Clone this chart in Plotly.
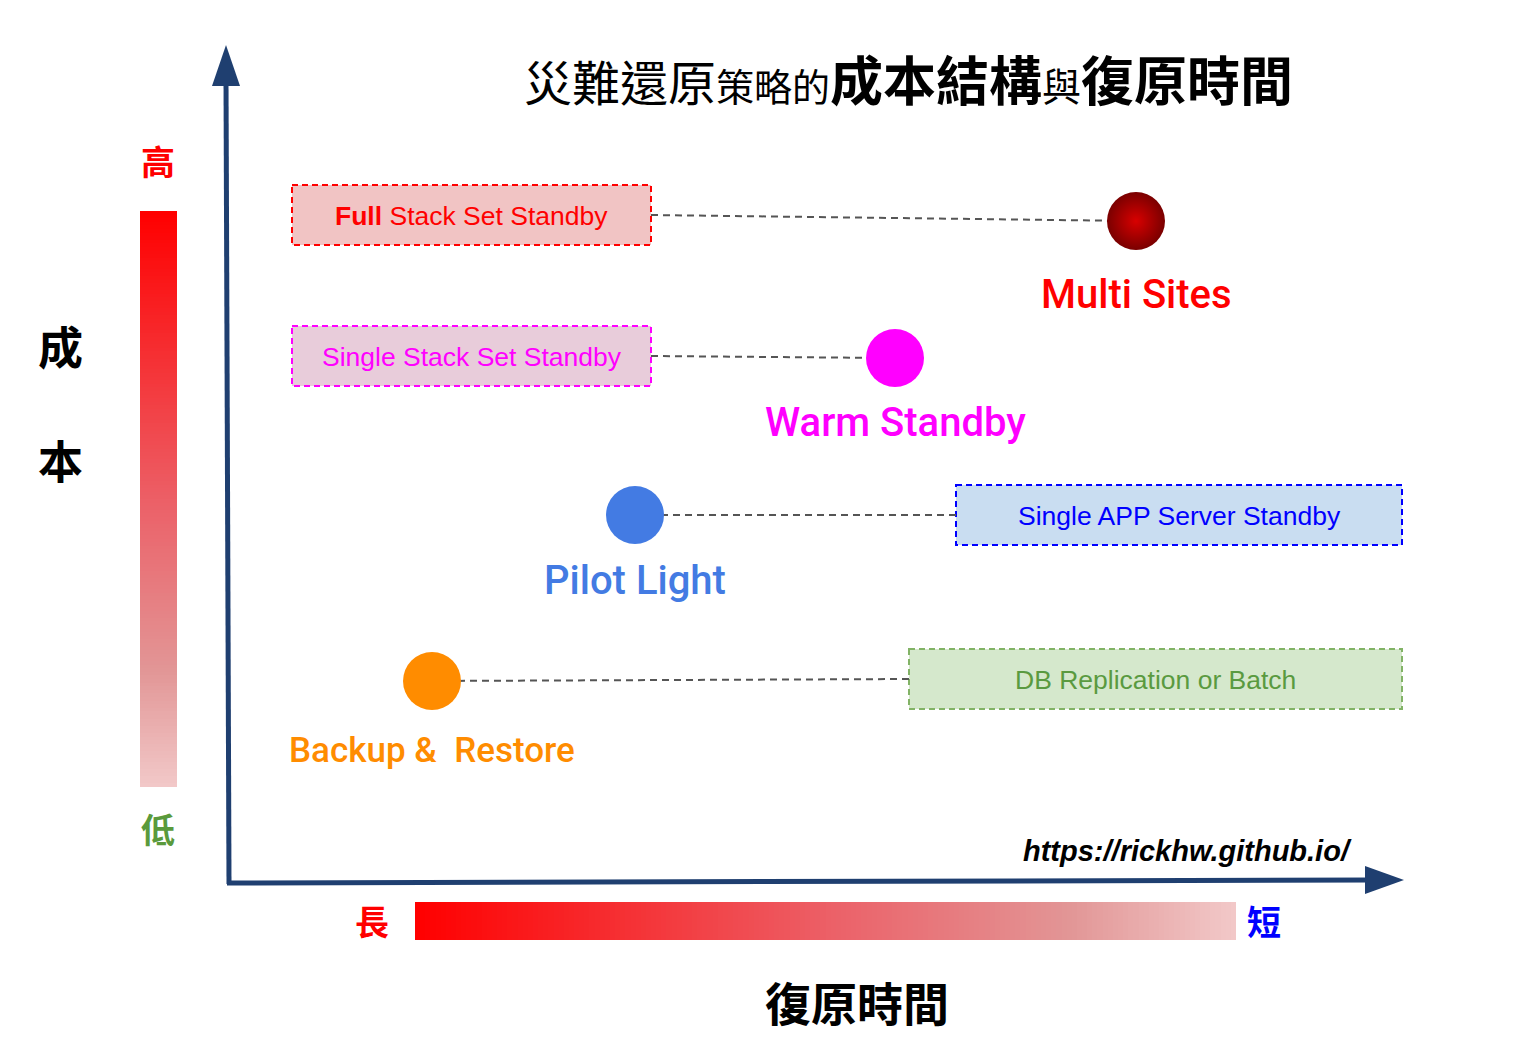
import numpy as np
import plotly.graph_objects as go

# ---------------- data ----------------
W, H = 1516, 1043
PAD = 8  # browser body margin

strategies = ["Multi Sites", "Warm Standby", "Pilot Light", "Backup &\u00a0 Restore"]
recovery_pos = [1136, 895, 635, 432]   # horizontal: farther right = shorter recovery time
cost_pos = [221, 358, 515, 681]        # vertical (screen units): higher up = higher cost
point_colors = ["#7A0000", "#FF00FF", "#437BE3", "#FF8C00"]
label_colors = ["#FF0000", "#FF00FF", "#437BE3", "#FF8C00"]
label_sizes = [40, 40, 40, 35]
label_dy = [73, 64, 65, 69]

approaches = ["<b>Full</b> Stack Set Standby", "Single Stack Set Standby",
              "Single APP Server Standby", "DB Replication or Batch"]
box_x0 = [292, 292, 956, 909]
box_x1 = [651, 651, 1402, 1402]
box_yc = [215, 356, 515, 679]
box_fill = ["#F1C4C4", "#E8CCDA", "#C9DDF1", "#D5E8CC"]
box_line = ["#FF0000", "#FF00FF", "#0000FF", "#82B366"]
box_text_color = ["#FF0000", "#FF00FF", "#0000FF", "#5A9A40"]
BOX_H = 60

grad_scale = [[0.0, "#FF0000"], [0.5, "#EC5F66"], [0.8, "#E29696"], [1.0, "#F2C8C8"]]

NAVY = "#1F3F70"
CJK = "Noto Sans CJK TC"
LAT = "Liberation Sans, Arial, sans-serif"
LAB = "Roboto, Liberation Sans, sans-serif"

fig = go.Figure()

# ---------------- gradient bars ----------------
N = 160
gv = np.linspace(0, 1, N)
fig.add_trace(go.Heatmap(z=gv.reshape(N, 1), x=[140, 177], y=np.linspace(211, 787, N + 1),
                         colorscale=grad_scale, zmin=0, zmax=1, showscale=False,
                         hoverinfo="skip", zsmooth=False))
fig.add_trace(go.Heatmap(z=gv.reshape(1, N), y=[902, 940], x=np.linspace(415, 1236, N + 1),
                         colorscale=grad_scale, zmin=0, zmax=1, showscale=False,
                         hoverinfo="skip", zsmooth=False))

# ---------------- boxes ----------------
shapes = []
annotations = []
for i in range(len(approaches)):
    shapes.append(dict(type="rect", x0=box_x0[i], x1=box_x1[i],
                       y0=box_yc[i] - BOX_H / 2, y1=box_yc[i] + BOX_H / 2,
                       fillcolor=box_fill[i], line=dict(color=box_line[i], width=2, dash="6px,4px"),
                       layer="below"))
    annotations.append(dict(x=(box_x0[i] + box_x1[i]) / 2, y=box_yc[i] + 1, text=approaches[i],
                            showarrow=False, xanchor="center", yanchor="middle",
                            font=dict(family=LAT, size=26.5, color=box_text_color[i])))

# ---------------- connectors ----------------
for i in range(len(strategies)):
    start_x = box_x1[i] if box_x1[i] < recovery_pos[i] else box_x0[i]
    fig.add_trace(go.Scatter(x=[start_x, recovery_pos[i]], y=[box_yc[i], cost_pos[i]],
                             mode="lines", line=dict(color="#555555", width=2, dash="7px,5px"),
                             hoverinfo="skip", showlegend=False))

# ---------------- strategy points ----------------
fig.add_trace(go.Scatter(x=[recovery_pos[0]], y=[cost_pos[0]], mode="markers",
                         marker=dict(size=58, color=point_colors[0], line=dict(width=0),
                                     gradient=dict(type="radial", color="#D80000")),
                         hoverinfo="skip", showlegend=False))
fig.add_trace(go.Scatter(x=recovery_pos[1:], y=cost_pos[1:], mode="markers",
                         marker=dict(size=58, color=point_colors[1:], line=dict(width=0)),
                         hoverinfo="skip", showlegend=False))

for i, s in enumerate(strategies):
    annotations.append(dict(x=recovery_pos[i], y=cost_pos[i] + label_dy[i], text=s,
                            showarrow=False, xanchor="center", yanchor="middle",
                            font=dict(family=LAB, size=label_sizes[i], color=label_colors[i],
                                      weight=500)))

# ---------------- axes arrows ----------------
shapes += [
    dict(type="line", x0=229, y0=884, x1=226, y1=80, line=dict(color=NAVY, width=5)),
    dict(type="path", path="M 212 86 L 226 45 L 240 86 Z", fillcolor=NAVY, line=dict(width=0)),
    dict(type="line", x0=227, y0=883, x1=1372, y1=880, line=dict(color=NAVY, width=5)),
    dict(type="path", path="M 1365 866 L 1404 880 L 1365 894 Z", fillcolor=NAVY, line=dict(width=0)),
]

# ---------------- texts ----------------
title = ('<span style="font-size:48px">災難還原</span>'
         '<span style="font-size:38px">策略的</span>'
         '<b><span style="font-size:53px">成本結構</span></b>'
         '<span style="font-size:39px">與</span>'
         '<b><span style="font-size:53px">復原時間</span></b>')
annotations += [
    dict(x=908, y=78, text=title, font=dict(family=CJK, size=48, color="#000000")),
    dict(x=158, y=160, text="<b>高</b>", font=dict(family=CJK, size=34, color="#FF0000")),
    dict(x=158, y=828, text="<b>低</b>", font=dict(family=CJK, size=34, color="#5A9A3C")),
    dict(x=372, y=920, text="<b>長</b>", font=dict(family=CJK, size=34, color="#FF0000")),
    dict(x=1264, y=920, text="<b>短</b>", font=dict(family=CJK, size=34, color="#0000FF")),
    dict(x=60, y=345, text="<b>成</b>", font=dict(family=CJK, size=45, color="#000000")),
    dict(x=60, y=459, text="<b>本</b>", font=dict(family=CJK, size=45, color="#000000")),
    dict(x=857, y=1001, text="<b>復原時間</b>", font=dict(family=CJK, size=46, color="#000000")),
    dict(x=1187, y=851, text="<b><i>https://rickhw.github.io/</i></b>",
         font=dict(family=LAT, size=29, color="#000000")),
]
for a in annotations[-9:]:
    a.update(showarrow=False, xanchor="center", yanchor="middle")

fig.update_layout(
    width=W - 2 * PAD, height=H - 2 * PAD,
    margin=dict(l=0, r=0, t=0, b=0),
    paper_bgcolor="white", plot_bgcolor="white",
    xaxis=dict(range=[PAD, W - PAD], visible=False, fixedrange=True),
    yaxis=dict(range=[H - PAD, PAD], visible=False, fixedrange=True),
    shapes=shapes, annotations=annotations,
    showlegend=False, hovermode=False,
)

fig.write_html("out.html", config={"displayModeBar": False, "staticPlot": True})
